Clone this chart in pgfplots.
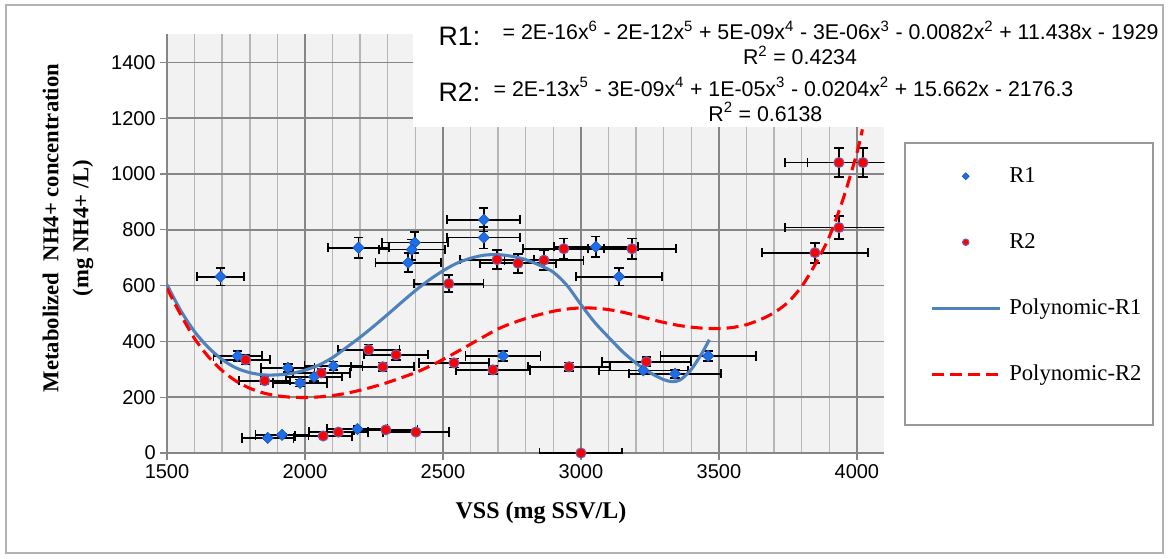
\documentclass[border=0pt]{standalone}
\usepackage{pgfplots}
\pgfplotsset{compat=1.18}
\usepackage{fontspec}
\setmainfont{Liberation Serif}
\newfontfamily\arial{Liberation Sans}
\definecolor{bgc}{RGB}{242,242,242}
\definecolor{majg}{RGB}{134,134,134}
\definecolor{ming}{RGB}{182,182,182}
\definecolor{rone}{RGB}{30,110,235}
\definecolor{rtwo}{RGB}{255,0,0}
\definecolor{rtwoedge}{RGB}{120,90,170}
\definecolor{polyone}{RGB}{79,129,189}
\pgfplotsset{
  markleg/.style={legend image code/.code={\path[draw=none] (0pt,0pt) -- (51pt,0pt); \path[##1, draw=none, mark size=#1] plot coordinates {(25.5pt,0pt)};}},
  lineleg/.style={legend image code/.code={\draw[##1] (0pt,0pt) -- (51pt,0pt);}},
  myerr/.style={error bars/.cd, x dir=both, x fixed relative=0.05, y dir=both, y fixed relative=0.05,
    error bar style={black, line width=1.3pt},
    error mark=|,
    error mark options={black, mark size=3.5pt, line width=1.3pt}},
}

\pgfplotstableread{
x y
1694 632
2194 736
2398 754
2387 729
2374 682
2648 836
2648 772
3054 739
3138 632
3461 348
3341 284
3226 296
2718 348
1756 348
1938 305
1982 251
2033 273
2103 312
1865 54
1917 65
2190 86
}\rone

\pgfplotstableread{
x y
2521 607
2696 693
2772 680
2866 691
2938 732
3185 732
3848 718
3935 808
3935 1041
4022 1041
1785 334
1854 259
2059 287
2231 370
2330 352
2282 309
2540 323
2681 298
2066 61
2121 75
2293 83
2402 75
2957 309
3237 327
3000 0
}\rtwo

\begin{document}
\begin{tikzpicture}
\path (0pt,0pt) rectangle (876.75pt,418.5pt);
\draw[gray!60, line width=1pt] (4.5pt,3.75pt) rectangle (872.25pt,414.75pt);
\draw[gray!80, line width=1pt, fill=white] (678.75pt,99.75pt) rectangle (864.75pt,311.25pt);
\begin{axis}[
  at={(125.25pt,78.75pt)}, anchor=south west, scale only axis,
  width=538.1pt, height=313.9pt,
  xmin=1500, xmax=4100, ymin=0, ymax=1500,
  axis background/.style={fill=bgc},
  axis x line*=bottom, axis y line*=left,
  axis line style={majg, line width=1pt, -},
  xtick={1500,2000,...,4000}, ytick={0,200,...,1400},
  minor x tick num=4,
  grid=both,
  major grid style={majg, line width=1.1pt},
  minor grid style={ming, line width=1.1pt},
  tick align=outside, major tick length=5pt, minor tick length=0pt,
  tick style={majg, line width=1pt},
  tick label style={font=\arial\fontsize{15}{18}\selectfont},
  /pgf/number format/assume math mode=true,
  /pgf/number format/set thousands separator={},
  legend cell align=left,
  legend style={at={(1.0634,0.6858)}, anchor=north west, draw=none, fill=none,
    font=\fontsize{17}{20}\selectfont,
    nodes={inner sep=0pt, text height=12pt, text depth=3pt},
    row sep=34.5pt, column sep=6pt, inner sep=0pt},
]
\addplot[only marks, mark=square*, mark size=3pt,
  mark options={rotate=45, fill=rone, draw=rone!75!black, line width=0.4pt},
  markleg=1.9pt, myerr]
  table[x=x,y=y] {\rone};
\addlegendentry{R1}
\addplot[only marks, mark=*, mark size=3.75pt,
  mark options={fill=rtwo, draw=rtwoedge, line width=0.8pt},
  markleg=2.4pt, myerr]
  table[x=x,y=y] {\rtwo};
\addlegendentry{R2}
\addplot[polyone, line width=2.3pt, smooth, no marks, lineleg]
  coordinates {(1500,603) (1550,510) (1600,435) (1650,378) (1700,335) (1750,305) (1800,288) (1850,280) (1900,280) (1950,285) (2000,297) (2050,315) (2100,342) (2150,378) (2200,415) (2250,455) (2300,497) (2350,540) (2400,582) (2450,620) (2500,653) (2550,680) (2600,698) (2650,709) (2700,711) (2750,705) (2800,693) (2850,673) (2900,648) (2950,600) (3000,532) (3050,468) (3100,415) (3150,364) (3200,322) (3250,288) (3300,263) (3330,256) (3360,262) (3400,300) (3440,360) (3465,406)};
\addlegendentry{Polynomic-R1}
\addplot[rtwo, line width=2.3pt, smooth, no marks, dash pattern=on 9pt off 4.5pt, lineleg]
  coordinates {(1500,590) (1550,495) (1600,410) (1650,345) (1700,295) (1750,258) (1800,232) (1850,215) (1900,205) (1950,200) (2000,199) (2050,201) (2100,206) (2150,214) (2200,225) (2250,238) (2300,253) (2350,270) (2400,288) (2450,310) (2500,335) (2550,362) (2600,390) (2650,418) (2700,445) (2750,465) (2800,482) (2850,496) (2900,508) (2950,516) (3000,520) (3050,519) (3100,514) (3150,505) (3200,493) (3250,480) (3300,468) (3350,458) (3400,451) (3450,447) (3500,446) (3550,450) (3600,460) (3650,478) (3700,503) (3750,540) (3800,597) (3850,678) (3900,775) (3950,910) (4000,1075) (4020,1160)};
\addlegendentry{Polynomic-R2}
\end{axis}
\fill[white] (309.75pt,323.25pt) rectangle (871.4pt,414.1pt);
\node[anchor=west, font=\arial\fontsize{20}{22}\selectfont] at (325.5pt,391pt) {R1:};
\node[anchor=west, font=\arial\fontsize{16}{18}\selectfont] at (373.5pt,395.5pt) {= 2E-16x\textsuperscript{6} - 2E-12x\textsuperscript{5} + 5E-09x\textsuperscript{4} - 3E-06x\textsuperscript{3} - 0.0082x\textsuperscript{2} + 11.438x - 1929};
\node[font=\arial\fontsize{16}{18}\selectfont] at (600pt,377pt) {R\textsuperscript{2} = 0.4234};
\node[anchor=west, font=\arial\fontsize{20}{22}\selectfont] at (325.5pt,349pt) {R2:};
\node[anchor=west, font=\arial\fontsize{16}{18}\selectfont] at (366.75pt,353.25pt) {= 2E-13x\textsuperscript{5} - 3E-09x\textsuperscript{4} + 1E-05x\textsuperscript{3} - 0.0204x\textsuperscript{2} + 15.662x - 2176.3};
\node[font=\arial\fontsize{16}{18}\selectfont] at (574pt,334.5pt) {R\textsuperscript{2} = 0.6138};
\node[rotate=90, align=center, font=\bfseries\fontsize{17}{22.5}\selectfont] at (51pt,247.5pt) {Metabolized~~NH4+ concentration\\(mg NH4+ /L)};
\node[font=\bfseries\fontsize{18}{21}\selectfont] at (405.75pt,33.75pt) {VSS (mg SSV/L)};
\end{tikzpicture}
\end{document}
